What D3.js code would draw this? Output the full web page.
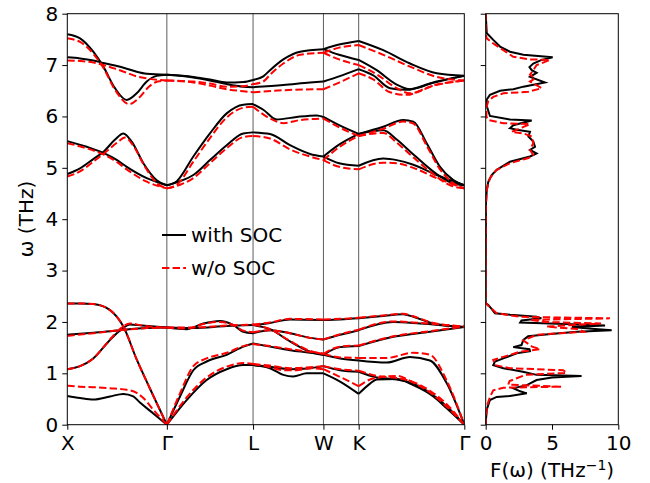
<!DOCTYPE html>
<html>
<head>
<meta charset="utf-8">
<script src="https://cdn.jsdelivr.net/npm/d3@7"></script>
<style>
  body { margin: 0; background: #fff; }
  text { font-family: "DejaVu Sans", sans-serif; }
</style>
</head>
<body>
<div id="chart"></div>
<script>
// high-symmetry points along the path (path length units)
var symLabels = ["X", "Γ", "L", "W", "K", "Γ"];
var symK = [0, 1, 1.866, 2.573, 2.927, 3.988];
var yTicks = [0, 1, 2, 3, 4, 5, 6, 7, 8];
var dosTicks = [0, 5, 10];
var legendNames = ["with SOC", "w/o SOC"];

// phonon branches with SOC, one polyline per path segment: [k, omega (THz)]
var socBands = [
  // X - Gamma
  [[0,7.60],[0.128,7.52],[0.261,7.26],[0.362,6.97],[0.479,6.55],[0.597,6.32],[0.697,6.45],[0.798,6.68],[0.898,6.79],[1,6.81]],
  [[0,7.15],[0.128,7.13],[0.261,7.09],[0.362,7.04],[0.479,6.99],[0.597,6.93],[0.697,6.87],[0.798,6.83],[1,6.81]],
  [[0,5.52],[0.195,5.41],[0.362,5.29],[0.5,5.15],[0.597,5.02],[0.798,4.80],[1,4.66]],
  [[0,4.88],[0.128,4.99],[0.261,5.17],[0.362,5.31],[0.48,5.55],[0.563,5.67],[0.647,5.51],[0.764,5.09],[0.898,4.76],[1,4.66]],
  [[0,0.56],[0.128,0.52],[0.261,0.49],[0.429,0.55],[0.563,0.60],[0.663,0.55],[0.73,0.43],[0.864,0.22],[1,0]],
  [[0,2.36],[0.128,2.36],[0.261,2.35],[0.429,2.23],[0.563,1.91],[0.697,1.27],[0.831,0.70],[1,0]],
  [[0,1.08],[0.128,1.14],[0.261,1.29],[0.429,1.65],[0.546,1.86],[0.63,1.95],[0.75,1.93],[1,1.89]],
  [[0,1.75],[0.261,1.79],[0.529,1.84],[0.798,1.88],[1,1.89]],
  // Gamma - L
  [[1,6.81],[1.266,6.77],[1.433,6.72],[1.601,6.66],[1.768,6.67],[1.866,6.71]],
  [[1,6.81],[1.266,6.76],[1.433,6.70],[1.601,6.63],[1.768,6.58],[1.866,6.57]],
  [[1,4.66],[1.1,4.74],[1.266,5.22],[1.433,5.67],[1.601,6.06],[1.768,6.23],[1.866,6.24]],
  [[1,4.66],[1.133,4.74],[1.266,4.86],[1.433,5.15],[1.601,5.44],[1.768,5.67],[1.866,5.69]],
  [[1,0],[1.199,0.48],[1.4,0.87],[1.601,1.08],[1.768,1.16],[1.866,1.16]],
  [[1,0],[1.132,0.55],[1.266,1.06],[1.4,1.23],[1.601,1.36],[1.768,1.52],[1.866,1.58]],
  [[1,1.89],[1.199,1.86],[1.366,1.97],[1.534,2.02],[1.668,1.94],[1.768,1.81],[1.866,1.78]],
  [[1,1.89],[1.266,1.88],[1.601,1.92],[1.866,1.94]],
  // L - W
  [[1.866,6.71],[1.969,6.78],[2.036,6.90],[2.17,7.11],[2.338,7.26],[2.573,7.31]],
  [[1.866,6.57],[2.17,6.61],[2.438,6.66],[2.573,6.68]],
  [[1.866,6.24],[1.969,6.13],[2.103,5.94],[2.304,5.99],[2.505,6.02],[2.573,5.99]],
  [[1.866,5.69],[2.036,5.66],[2.237,5.44],[2.438,5.27],[2.573,5.22]],
  [[1.866,1.94],[2.036,1.98],[2.237,2.05],[2.573,2.04]],
  [[1.866,1.94],[2.036,1.86],[2.237,1.62],[2.438,1.42],[2.573,1.36]],
  [[1.866,1.78],[2.036,1.84],[2.237,1.78],[2.438,1.69],[2.573,1.66]],
  [[1.866,1.58],[2.036,1.52],[2.237,1.45],[2.438,1.40],[2.573,1.36]],
  [[1.866,1.16],[2.036,1.13],[2.237,1.08],[2.438,1.10],[2.573,1.14]],
  [[1.866,1.16],[2.036,1.10],[2.17,0.97],[2.27,0.94],[2.405,1.0],[2.573,1.0]],
  // W - K
  [[2.573,7.31],[2.73,7.40],[2.927,7.47]],
  [[2.573,7.31],[2.73,7.20],[2.927,7.10]],
  [[2.573,6.68],[2.73,6.78],[2.927,6.92]],
  [[2.573,5.99],[2.73,5.83],[2.927,5.66]],
  [[2.573,5.22],[2.73,5.45],[2.927,5.66]],
  [[2.573,5.22],[2.73,5.09],[2.927,5.04]],
  [[2.573,2.04],[2.74,2.05],[2.927,2.07]],
  [[2.573,1.66],[2.74,1.75],[2.927,1.84]],
  [[2.573,1.36],[2.74,1.51],[2.927,1.53]],
  [[2.573,1.36],[2.74,1.29],[2.927,1.25]],
  [[2.573,1.14],[2.74,1.06],[2.927,1.03]],
  [[2.573,1.00],[2.74,0.84],[2.927,0.60]],
  // K - Gamma
  [[2.927,7.47],[3.174,7.29],[3.443,7.03],[3.711,6.84],[3.988,6.79]],
  [[2.927,7.10],[3.108,6.90],[3.309,6.62],[3.443,6.53],[3.711,6.68],[3.988,6.79]],
  [[2.927,6.92],[3.074,6.80],[3.242,6.55],[3.409,6.52],[3.643,6.64],[3.988,6.79]],
  [[2.927,5.66],[3.174,5.80],[3.375,5.93],[3.476,5.90],[3.61,5.48],[3.744,5.02],[3.878,4.76],[3.988,4.66]],
  [[2.927,5.66],[3.174,5.73],[3.309,5.55],[3.443,5.32],[3.643,4.98],[3.845,4.72],[3.988,4.66]],
  [[2.927,5.04],[3.174,5.18],[3.309,5.15],[3.476,5.06],[3.711,4.86],[3.988,4.66]],
  [[2.927,2.07],[3.141,2.11],[3.375,2.15],[3.476,2.10],[3.677,1.97],[3.988,1.90]],
  [[2.927,1.84],[3.275,2.00],[3.543,1.97],[3.988,1.90]],
  [[2.927,1.53],[3.275,1.71],[3.643,1.81],[3.988,1.90]],
  [[2.927,1.25],[3.208,1.21],[3.443,1.32],[3.643,1.25],[3.811,0.81],[3.988,0]],
  [[2.927,1.03],[3.108,0.92],[3.309,0.88],[3.476,0.80],[3.643,0.62],[3.811,0.36],[3.988,0]],
  [[2.927,0.60],[3.041,0.80],[3.108,0.88],[3.309,0.89],[3.476,0.77],[3.677,0.55],[3.811,0.32],[3.988,0]]
];

// phonon branches without SOC
var noSocBands = [
  // X - Gamma
  [[0,7.52],[0.128,7.45],[0.261,7.22],[0.362,6.95],[0.479,6.52],[0.62,6.24],[0.72,6.36],[0.82,6.58],[0.91,6.68],[1,6.70]],
  [[0,7.09],[0.128,7.08],[0.261,7.05],[0.362,7.00],[0.479,6.93],[0.597,6.85],[0.697,6.78],[0.798,6.74],[1,6.70]],
  [[0,5.48],[0.195,5.38],[0.362,5.26],[0.5,5.11],[0.597,4.97],[0.798,4.73],[1,4.60]],
  [[0,4.83],[0.128,4.93],[0.261,5.12],[0.362,5.27],[0.5,5.49],[0.58,5.59],[0.66,5.44],[0.78,5.02],[0.9,4.70],[1,4.60]],
  [[0,0.76],[0.128,0.74],[0.261,0.73],[0.429,0.71],[0.597,0.68],[0.697,0.62],[0.764,0.52],[0.864,0.29],[1,0]],
  [[0,2.36],[0.128,2.36],[0.261,2.35],[0.429,2.23],[0.563,1.91],[0.697,1.27],[0.831,0.70],[1,0]],
  [[0,1.08],[0.128,1.14],[0.261,1.29],[0.429,1.66],[0.546,1.89],[0.63,1.97],[0.75,1.93],[1,1.89]],
  [[0,1.73],[0.261,1.78],[0.529,1.84],[0.798,1.88],[1,1.89]],
  // Gamma - L
  [[1,6.70],[1.266,6.68],[1.433,6.64],[1.601,6.58],[1.768,6.59],[1.866,6.63]],
  [[1,6.70],[1.266,6.66],[1.433,6.60],[1.601,6.53],[1.768,6.49],[1.866,6.47]],
  [[1,4.60],[1.1,4.67],[1.266,5.12],[1.433,5.58],[1.601,5.98],[1.768,6.17],[1.866,6.19]],
  [[1,4.60],[1.133,4.67],[1.266,4.80],[1.433,5.09],[1.601,5.38],[1.768,5.60],[1.866,5.62]],
  [[1,0],[1.199,0.53],[1.4,0.92],[1.601,1.13],[1.768,1.20],[1.866,1.18]],
  [[1,0],[1.132,0.61],[1.266,1.14],[1.4,1.29],[1.601,1.40],[1.768,1.53],[1.866,1.57]],
  [[1,1.89],[1.199,1.87],[1.366,1.96],[1.534,2.00],[1.668,1.94],[1.768,1.83],[1.866,1.80]],
  [[1,1.89],[1.266,1.89],[1.601,1.93],[1.866,1.95]],
  // L - W
  [[1.866,6.63],[1.969,6.68],[2.036,6.81],[2.17,7.03],[2.338,7.20],[2.573,7.24]],
  [[1.866,6.47],[2.17,6.51],[2.573,6.53]],
  [[1.866,6.19],[2.036,5.96],[2.17,5.87],[2.338,5.93],[2.573,5.96]],
  [[1.866,5.62],[2.036,5.57],[2.237,5.36],[2.573,5.15]],
  [[1.866,1.95],[2.036,1.99],[2.237,2.06],[2.573,2.05]],
  [[1.866,1.95],[2.036,1.86],[2.237,1.63],[2.438,1.44],[2.573,1.38]],
  [[1.866,1.80],[2.036,1.84],[2.237,1.78],[2.438,1.69],[2.573,1.66]],
  [[1.866,1.57],[2.036,1.53],[2.237,1.47],[2.438,1.42],[2.573,1.38]],
  [[1.866,1.18],[2.036,1.15],[2.237,1.10],[2.438,1.12],[2.573,1.14]],
  [[1.866,1.18],[2.036,1.12],[2.17,1.06],[2.304,1.06],[2.45,1.10],[2.573,1.08]],
  // W - K
  [[2.573,7.24],[2.73,7.34],[2.927,7.39]],
  [[2.573,7.24],[2.73,7.11],[2.927,7.00]],
  [[2.573,6.53],[2.73,6.66],[2.927,6.84]],
  [[2.573,5.96],[2.73,5.79],[2.927,5.62]],
  [[2.573,5.15],[2.73,5.40],[2.927,5.62]],
  [[2.573,5.15],[2.73,5.02],[2.927,4.97]],
  [[2.573,2.05],[2.74,2.06],[2.927,2.08]],
  [[2.573,1.66],[2.74,1.76],[2.927,1.85]],
  [[2.573,1.38],[2.74,1.52],[2.927,1.54]],
  [[2.573,1.38],[2.74,1.31],[2.927,1.30]],
  [[2.573,1.14],[2.74,1.08],[2.927,1.05]],
  [[2.573,1.08],[2.74,0.93],[2.927,0.75]],
  // K - Gamma
  [[2.927,7.39],[3.174,7.20],[3.443,6.97],[3.711,6.77],[3.988,6.70]],
  [[2.927,7.00],[3.108,6.82],[3.309,6.55],[3.443,6.45],[3.711,6.62],[3.988,6.70]],
  [[2.927,6.84],[3.074,6.72],[3.242,6.47],[3.409,6.42],[3.643,6.58],[3.988,6.70]],
  [[2.927,5.62],[3.174,5.76],[3.375,5.90],[3.476,5.86],[3.61,5.43],[3.744,4.97],[3.878,4.70],[3.988,4.60]],
  [[2.927,5.62],[3.174,5.68],[3.309,5.49],[3.443,5.26],[3.643,4.93],[3.845,4.66],[3.988,4.60]],
  [[2.927,4.97],[3.174,5.10],[3.309,5.09],[3.476,5.00],[3.711,4.80],[3.988,4.60]],
  [[2.927,2.08],[3.141,2.12],[3.375,2.16],[3.476,2.11],[3.677,1.98],[3.988,1.91]],
  [[2.927,1.85],[3.275,2.01],[3.543,1.98],[3.988,1.91]],
  [[2.927,1.54],[3.275,1.72],[3.643,1.82],[3.988,1.91]],
  [[2.927,1.30],[3.208,1.30],[3.476,1.40],[3.643,1.36],[3.811,0.86],[3.988,0]],
  [[2.927,1.05],[3.108,0.95],[3.309,0.91],[3.476,0.83],[3.643,0.66],[3.811,0.40],[3.988,0]],
  [[2.927,0.75],[3.041,0.88],[3.108,0.91],[3.309,0.95],[3.476,0.82],[3.677,0.58],[3.811,0.35],[3.988,0]]
];

// phonon DOS: [omega (THz), F(omega) (1/THz)]
var socDos = [[8,0],[7.62,0.08],[7.59,0.2],[7.49,0.57],[7.36,1.08],[7.26,1.83],[7.2,2.84],[7.15,5.05],[7.1,4.22],
  [7.03,3.59],[6.96,3.3],[6.9,3.47],[6.85,3.84],[6.77,3.34],[6.66,4.47],[6.58,2.84],[6.53,2.08],[6.5,1.08],
  [6.42,0.32],[6.33,0.08],[6.2,0.08],[6.01,0.32],[5.94,1.83],[5.92,3.47],[5.83,2.08],[5.77,1.83],[5.74,2.34],
  [5.70,3.34],[5.61,3.22],[5.51,3.59],[5.41,3.72],[5.35,3.34],[5.28,3.84],[5.22,3.34],[5.12,1.83],[4.96,0.83],
  [4.86,0.45],[4.73,0.2],[4.57,0.08],[4.3,0.02],[3.0,0],[2.4,0],[2.36,0.02],[2.33,0.2],[2.17,0.7],[2.14,1.83],
  [2.10,3.84],[2.07,4.2],[2.03,2.7],[1.99,2.6],[1.96,6.0],[1.93,9.0],[1.90,6.5],[1.87,8.0],[1.84,9.5],[1.81,6.9],
  [1.77,5.1],[1.72,3.2],[1.65,2.84],[1.55,2.7],[1.51,2.08],[1.47,3.3],[1.43,3.34],[1.39,2.34],[1.29,1.33],
  [1.23,0.7],[1.16,0.57],[1.10,1.33],[1.03,2.8],[0.97,3.84],[0.95,7.23],[0.92,5.0],[0.87,3.84],[0.77,3.1],
  [0.71,2.08],[0.65,2.6],[0.61,3.1],[0.56,1.83],[0.54,0.83],[0.48,0.32],[0.29,0.08],[0.1,0.02],[0,0]];

var noSocDos = [[8,0],[7.6,0],[7.52,0.08],[7.42,0.57],[7.29,1.33],[7.16,2.08],[7.11,3.34],[7.10,4.85],[7.00,3.84],
  [6.90,3.59],[6.81,3.34],[6.74,3.72],[6.68,3.34],[6.55,4.22],[6.48,3.22],[6.45,1.33],[6.38,0.57],[6.30,0.2],
  [6.2,0.08],[6.0,0.05],[5.93,0.2],[5.87,1.33],[5.85,3.34],[5.77,2.59],[5.70,1.95],[5.67,2.84],[5.61,3.47],
  [5.48,3.59],[5.35,3.34],[5.25,3.59],[5.19,3.22],[5.09,1.83],[4.96,0.83],[4.80,0.32],[4.57,0.08],[4.3,0.02],
  [3.0,0],[2.4,0],[2.36,0.02],[2.30,0.25],[2.17,0.83],[2.10,2.59],[2.07,9.37],[2.04,3.34],[2.0,4.5],[1.97,8.7],
  [1.91,4.6],[1.86,7.0],[1.81,7.4],[1.75,3.84],[1.64,2.84],[1.52,3.5],[1.47,4.1],[1.42,2.6],[1.32,1.33],
  [1.26,0.57],[1.16,0.7],[1.10,1.83],[1.06,5.84],[1.01,6.1],[0.97,3.0],[0.85,1.8],[0.78,1.7],[0.74,5.72],
  [0.72,1.33],[0.67,0.57],[0.54,0.32],[0.35,0.08],[0.1,0.02],[0,0]];

var width = 650, height = 483, fs = 20;

var svg = d3.select("#chart")
  .append("svg")
    .attr("width", width)
    .attr("height", height);

// scales
var x = d3.scaleLinear().domain([0, symK[symK.length - 1]]).range([67.3, 464.3]);
var y = d3.scaleLinear().domain([0, 8]).range([424.7, 13.7]);
var xd = d3.scaleLinear().domain([0, 10]).range([485.7, 618.3]);

svg.append("clipPath").attr("id", "clipL")
  .append("rect").attr("x", x.range()[0]).attr("y", y.range()[1])
  .attr("width", x.range()[1] - x.range()[0]).attr("height", y.range()[0] - y.range()[1]);
svg.append("clipPath").attr("id", "clipR")
  .append("rect").attr("x", xd.range()[0]).attr("y", y.range()[1])
  .attr("width", xd.range()[1] - xd.range()[0]).attr("height", y.range()[0] - y.range()[1]);

// vertical lines at high-symmetry points
svg.selectAll("line.sym")
  .data(symK.slice(1, -1))
  .enter()
  .append("line")
    .attr("x1", function(d) { return x(d); })
    .attr("x2", function(d) { return x(d); })
    .attr("y1", y(0))
    .attr("y2", y(8))
    .attr("stroke", "#333")
    .attr("stroke-width", 0.8);

var bandLine = d3.line()
  .x(function(d) { return x(d[0]); })
  .y(function(d) { return y(d[1]); })
  .curve(d3.curveMonotoneX);

var gBands = svg.append("g").attr("clip-path", "url(#clipL)");
gBands.selectAll("path.soc")
  .data(socBands)
  .enter()
  .append("path")
    .attr("d", bandLine)
    .attr("fill", "none")
    .attr("stroke", "black")
    .attr("stroke-width", 2);
gBands.selectAll("path.nosoc")
  .data(noSocBands)
  .enter()
  .append("path")
    .attr("d", bandLine)
    .attr("fill", "none")
    .attr("stroke", "red")
    .attr("stroke-width", 2)
    .attr("stroke-dasharray", "7.4,3.2");

// DOS panel
var dosLine = d3.line()
  .x(function(d) { return xd(d[1]); })
  .y(function(d) { return y(d[0]); });

var gDos = svg.append("g").attr("clip-path", "url(#clipR)");
gDos.append("path")
  .attr("d", dosLine(socDos))
  .attr("fill", "none")
  .attr("stroke", "black")
  .attr("stroke-width", 2);
gDos.append("path")
  .attr("d", dosLine(noSocDos))
  .attr("fill", "none")
  .attr("stroke", "red")
  .attr("stroke-width", 2)
  .attr("stroke-dasharray", "7.4,3.2");

// frames
svg.append("rect")
  .attr("x", x.range()[0]).attr("y", y.range()[1])
  .attr("width", x.range()[1] - x.range()[0]).attr("height", y.range()[0] - y.range()[1])
  .attr("fill", "none").attr("stroke", "black").attr("stroke-width", 1);
svg.append("rect")
  .attr("x", xd.range()[0]).attr("y", y.range()[1])
  .attr("width", xd.range()[1] - xd.range()[0]).attr("height", y.range()[0] - y.range()[1])
  .attr("fill", "none").attr("stroke", "black").attr("stroke-width", 1);

function styleAxis(g) {
  g.select(".domain").remove();
  g.attr("font-family", "DejaVu Sans").attr("font-size", fs);
  g.selectAll("text").attr("fill", "black");
  g.selectAll("line").attr("stroke", "black");
}

// axes
svg.append("g")
  .attr("transform", "translate(" + x.range()[0] + ",0)")
  .call(d3.axisLeft(y).tickValues(yTicks).tickSize(5).tickPadding(4))
  .call(styleAxis);

svg.append("g")
  .attr("transform", "translate(0," + y.range()[0] + ")")
  .call(d3.axisBottom(x).tickValues(symK).tickSize(5).tickPadding(6)
    .tickFormat(function(d, i) { return symLabels[i]; }))
  .call(styleAxis);

svg.append("g")
  .attr("transform", "translate(" + xd.range()[0] + ",0)")
  .call(d3.axisLeft(y).tickValues(yTicks).tickSize(5).tickFormat(""))
  .call(styleAxis);

svg.append("g")
  .attr("transform", "translate(0," + y.range()[0] + ")")
  .call(d3.axisBottom(xd).tickValues(dosTicks).tickSize(5).tickPadding(6))
  .call(styleAxis);

// axis labels
svg.append("text")
  .attr("transform", "translate(33,219) rotate(-90)")
  .attr("text-anchor", "middle")
  .attr("font-size", fs)
  .text("ω (THz)");

var xl = svg.append("text")
  .attr("x", (xd.range()[0] + xd.range()[1]) / 2)
  .attr("y", 477)
  .attr("text-anchor", "middle")
  .attr("font-size", fs)
  .text("F(ω) (THz");
xl.append("tspan").attr("dy", -7).attr("font-size", 14).text("−1");
xl.append("tspan").attr("dy", 7).text(")");

// legend
var legend = svg.append("g");
legend.append("line")
  .attr("x1", 162).attr("x2", 186).attr("y1", 235).attr("y2", 235)
  .attr("stroke", "black").attr("stroke-width", 2);
legend.append("line")
  .attr("x1", 162).attr("x2", 186).attr("y1", 268).attr("y2", 268)
  .attr("stroke", "red").attr("stroke-width", 2).attr("stroke-dasharray", "7.4,3.2");
legend.selectAll("text")
  .data(legendNames)
  .enter()
  .append("text")
    .attr("x", 191)
    .attr("y", function(d, i) { return 242 + i * 33; })
    .attr("font-size", fs)
    .text(function(d) { return d; });
</script>
</body>
</html>
